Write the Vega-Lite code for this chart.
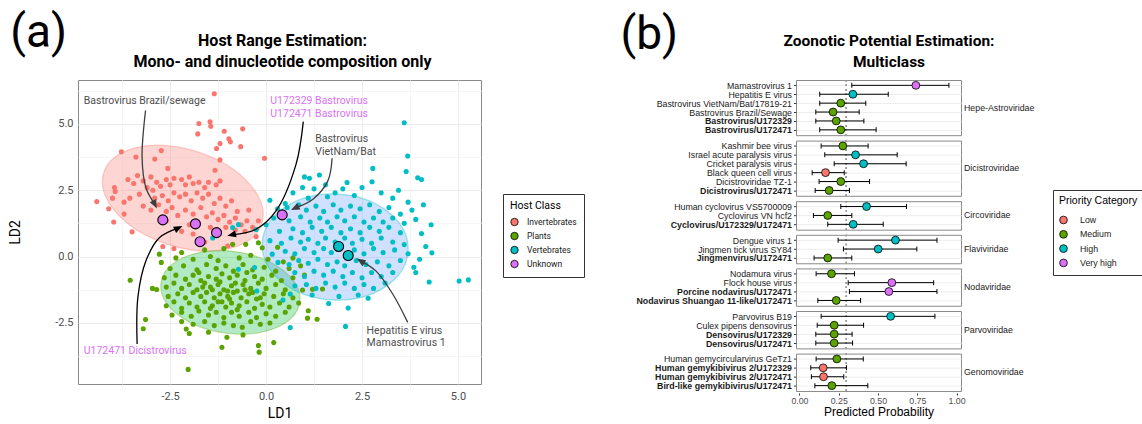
{
"$schema": "https://vega.github.io/schema/vega-lite/v6.json",
"padding": {"left": 8, "top": 10, "right": 0, "bottom": 0},
"config": {"view": {"stroke": "#8a8a8a", "strokeWidth": 1}, "font": "Roboto", "axis": {"domain": false}},
"spacing": 35,
"resolve": {"scale": {"color": "independent", "fill": "independent"}, "legend": {"color": "independent", "fill": "independent"}},
"datasets": {
"pts": [
{"host":"Invertebrates","x":-1.35,"y":6.13},{"host":"Invertebrates","x":-1.75,"y":5.01},{"host":"Invertebrates","x":-1.46,"y":5.08},{"host":"Invertebrates","x":-1.44,"y":4.91},{"host":"Invertebrates","x":-1.78,"y":4.62},{"host":"Invertebrates","x":-1.09,"y":4.72},{"host":"Invertebrates","x":-0.97,"y":4.44},{"host":"Invertebrates","x":-0.93,"y":4.32},{"host":"Invertebrates","x":-0.61,"y":4.81},{"host":"Invertebrates","x":-1.2,"y":4.26},{"host":"Invertebrates","x":-1.29,"y":4.07},{"host":"Invertebrates","x":-0.66,"y":4.14},{"host":"Invertebrates","x":-0.04,"y":3.7},{"host":"Invertebrates","x":-1.2,"y":3.64},{"host":"Invertebrates","x":-3.77,"y":3.95},{"host":"Invertebrates","x":-2.73,"y":3.99},{"host":"Invertebrates","x":-3.39,"y":3.75},{"host":"Invertebrates","x":-2.9,"y":3.67},{"host":"Invertebrates","x":-1.33,"y":3.25},{"host":"Invertebrates","x":-2.56,"y":3.32},
{"host":"Invertebrates","x":-4.41,"y":2.07},{"host":"Invertebrates","x":-4.1,"y":1.8},{"host":"Invertebrates","x":-3.97,"y":1.3},{"host":"Invertebrates","x":-3.49,"y":0.93},{"host":"Invertebrates","x":-3.95,"y":2.6},{"host":"Invertebrates","x":-3.93,"y":2.45},{"host":"Invertebrates","x":-3.6,"y":2.9},{"host":"Invertebrates","x":-3.45,"y":2.75},{"host":"Invertebrates","x":-3.35,"y":3.05},{"host":"Invertebrates","x":-3.2,"y":2.85},{"host":"Invertebrates","x":-3.1,"y":2.6},{"host":"Invertebrates","x":-3.3,"y":2.35},{"host":"Invertebrates","x":-3.55,"y":2.2},{"host":"Invertebrates","x":-3.7,"y":2.05},{"host":"Invertebrates","x":-3.0,"y":3.0},{"host":"Invertebrates","x":-2.85,"y":2.8},{"host":"Invertebrates","x":-2.95,"y":2.5},{"host":"Invertebrates","x":-2.75,"y":2.65},{"host":"Invertebrates","x":-2.6,"y":2.9},{"host":"Invertebrates","x":-2.5,"y":2.7},{"host":"Invertebrates","x":-2.4,"y":2.95},{"host":"Invertebrates","x":-2.2,"y":2.9},{"host":"Invertebrates","x":-2.1,"y":2.7},{"host":"Invertebrates","x":-2.0,"y":3.0},{"host":"Invertebrates","x":-1.9,"y":2.75},{"host":"Invertebrates","x":-1.75,"y":2.8},{"host":"Invertebrates","x":-1.6,"y":2.6},{"host":"Invertebrates","x":-1.5,"y":2.8},{"host":"Invertebrates","x":-1.3,"y":2.7},{"host":"Invertebrates","x":-1.2,"y":2.85},{"host":"Invertebrates","x":-2.9,"y":2.2},{"host":"Invertebrates","x":-2.7,"y":2.3},{"host":"Invertebrates","x":-2.55,"y":2.1},{"host":"Invertebrates","x":-2.4,"y":2.4},{"host":"Invertebrates","x":-2.25,"y":2.25},{"host":"Invertebrates","x":-2.1,"y":2.35},{"host":"Invertebrates","x":-1.95,"y":2.1},{"host":"Invertebrates","x":-1.8,"y":2.4},{"host":"Invertebrates","x":-1.65,"y":2.2},{"host":"Invertebrates","x":-1.5,"y":2.35},{"host":"Invertebrates","x":-1.35,"y":2.0},{"host":"Invertebrates","x":-1.2,"y":2.2},{"host":"Invertebrates","x":-1.05,"y":1.9},{"host":"Invertebrates","x":-0.9,"y":2.1},{"host":"Invertebrates","x":-0.75,"y":1.7},{"host":"Invertebrates","x":-3.2,"y":1.9},{"host":"Invertebrates","x":-3.0,"y":1.75},{"host":"Invertebrates","x":-2.8,"y":1.95},{"host":"Invertebrates","x":-2.6,"y":1.7},{"host":"Invertebrates","x":-2.45,"y":1.85},{"host":"Invertebrates","x":-2.3,"y":1.55},{"host":"Invertebrates","x":-2.1,"y":1.75},{"host":"Invertebrates","x":-1.9,"y":1.6},{"host":"Invertebrates","x":-1.7,"y":1.85},{"host":"Invertebrates","x":-1.55,"y":1.5},{"host":"Invertebrates","x":-1.4,"y":1.65},{"host":"Invertebrates","x":-1.25,"y":1.4},{"host":"Invertebrates","x":-1.1,"y":1.55},{"host":"Invertebrates","x":-0.95,"y":1.3},{"host":"Invertebrates","x":-0.8,"y":1.45},{"host":"Invertebrates","x":-0.65,"y":1.2},{"host":"Invertebrates","x":-0.5,"y":1.35},{"host":"Invertebrates","x":-0.35,"y":1.1},{"host":"Invertebrates","x":-0.55,"y":0.95},{"host":"Invertebrates","x":-0.8,"y":1.0},{"host":"Invertebrates","x":-1.05,"y":1.1},{"host":"Invertebrates","x":-1.45,"y":1.1},{"host":"Invertebrates","x":-2.0,"y":1.2},{"host":"Invertebrates","x":-2.2,"y":0.95},{"host":"Invertebrates","x":-2.69,"y":0.38},{"host":"Invertebrates","x":-0.26,"y":0.75},{"host":"Invertebrates","x":-1.6,"y":0.55},{"host":"Invertebrates","x":-1.0,"y":0.4},{"host":"Invertebrates","x":-2.4,"y":0.3},{"host":"Invertebrates","x":-0.2,"y":1.35},{"host":"Invertebrates","x":-0.45,"y":1.75},{"host":"Invertebrates","x":-3.7,"y":1.6},{"host":"Invertebrates","x":-4.0,"y":2.2},{"host":"Invertebrates","x":-2.6,"y":1.35},{"host":"Invertebrates","x":-1.9,"y":0.85},
{"host":"Plants","x":-2.2,"y":0.15},{"host":"Plants","x":-1.6,"y":0.25},{"host":"Plants","x":-1.1,"y":0.3},{"host":"Plants","x":-0.87,"y":0.46},{"host":"Plants","x":-0.53,"y":0.46},{"host":"Plants","x":-0.2,"y":0.52},{"host":"Plants","x":-0.1,"y":0.33},{"host":"Plants","x":0.3,"y":0.35},{"host":"Plants","x":-2.78,"y":0.09},{"host":"Plants","x":-2.73,"y":-0.22},{"host":"Plants","x":-2.35,"y":-0.05},{"host":"Plants","x":-1.9,"y":-0.1},{"host":"Plants","x":-1.45,"y":0.0},{"host":"Plants","x":-1.25,"y":-0.15},{"host":"Plants","x":-0.7,"y":-0.05},{"host":"Plants","x":-0.4,"y":0.05},{"host":"Plants","x":0.05,"y":-0.1},{"host":"Plants","x":0.45,"y":-0.2},{"host":"Plants","x":0.7,"y":-0.05},
{"host":"Plants","x":-2.5,"y":-0.45},{"host":"Plants","x":-2.15,"y":-0.35},{"host":"Plants","x":-1.8,"y":-0.5},{"host":"Plants","x":-1.55,"y":-0.3},{"host":"Plants","x":-1.3,"y":-0.45},{"host":"Plants","x":-1.05,"y":-0.35},{"host":"Plants","x":-0.85,"y":-0.55},{"host":"Plants","x":-0.6,"y":-0.3},{"host":"Plants","x":-0.35,"y":-0.5},{"host":"Plants","x":-0.05,"y":-0.4},{"host":"Plants","x":0.25,"y":-0.55},{"host":"Plants","x":0.6,"y":-0.45},{"host":"Plants","x":0.9,"y":-0.35},
{"host":"Plants","x":-2.65,"y":-0.8},{"host":"Plants","x":-2.35,"y":-0.7},{"host":"Plants","x":-2.1,"y":-0.85},{"host":"Plants","x":-1.9,"y":-0.7},{"host":"Plants","x":-1.7,"y":-0.9},{"host":"Plants","x":-1.5,"y":-0.75},{"host":"Plants","x":-1.3,"y":-0.85},{"host":"Plants","x":-1.15,"y":-0.65},{"host":"Plants","x":-0.95,"y":-0.8},{"host":"Plants","x":-0.75,"y":-0.7},{"host":"Plants","x":-0.55,"y":-0.9},{"host":"Plants","x":-0.3,"y":-0.75},{"host":"Plants","x":-0.1,"y":-0.85},{"host":"Plants","x":0.15,"y":-0.7},{"host":"Plants","x":0.4,"y":-0.9},{"host":"Plants","x":0.7,"y":-0.8},{"host":"Plants","x":1.0,"y":-0.7},
{"host":"Plants","x":-2.6,"y":-1.15},{"host":"Plants","x":-2.4,"y":-1.0},{"host":"Plants","x":-2.2,"y":-1.2},{"host":"Plants","x":-2.0,"y":-1.05},{"host":"Plants","x":-1.8,"y":-1.25},{"host":"Plants","x":-1.6,"y":-1.0},{"host":"Plants","x":-1.45,"y":-1.15},{"host":"Plants","x":-1.25,"y":-1.05},{"host":"Plants","x":-1.1,"y":-1.25},{"host":"Plants","x":-0.9,"y":-1.1},{"host":"Plants","x":-0.75,"y":-1.3},{"host":"Plants","x":-0.6,"y":-1.05},{"host":"Plants","x":-0.4,"y":-1.2},{"host":"Plants","x":-0.2,"y":-1.0},{"host":"Plants","x":0.0,"y":-1.2},{"host":"Plants","x":0.25,"y":-1.05},{"host":"Plants","x":0.5,"y":-1.25},{"host":"Plants","x":0.95,"y":-1.26},{"host":"Plants","x":1.21,"y":-1.23},{"host":"Plants","x":1.47,"y":-1.22},
{"host":"Plants","x":-2.96,"y":-1.2},{"host":"Plants","x":-2.85,"y":-1.24},{"host":"Plants","x":-2.55,"y":-1.5},{"host":"Plants","x":-2.3,"y":-1.4},{"host":"Plants","x":-2.1,"y":-1.55},{"host":"Plants","x":-1.9,"y":-1.35},{"host":"Plants","x":-1.7,"y":-1.5},{"host":"Plants","x":-1.55,"y":-1.35},{"host":"Plants","x":-1.35,"y":-1.55},{"host":"Plants","x":-1.2,"y":-1.4},{"host":"Plants","x":-1.0,"y":-1.5},{"host":"Plants","x":-0.85,"y":-1.35},{"host":"Plants","x":-0.65,"y":-1.55},{"host":"Plants","x":-0.45,"y":-1.4},{"host":"Plants","x":-0.25,"y":-1.6},{"host":"Plants","x":-0.05,"y":-1.4},{"host":"Plants","x":0.2,"y":-1.5},{"host":"Plants","x":0.45,"y":-1.4},{"host":"Plants","x":0.7,"y":-1.55},
{"host":"Plants","x":-2.6,"y":-1.85},{"host":"Plants","x":-2.4,"y":-1.7},{"host":"Plants","x":-2.2,"y":-1.95},{"host":"Plants","x":-2.0,"y":-1.75},{"host":"Plants","x":-1.8,"y":-1.9},{"host":"Plants","x":-1.6,"y":-1.7},{"host":"Plants","x":-1.4,"y":-1.85},{"host":"Plants","x":-1.25,"y":-1.7},{"host":"Plants","x":-1.05,"y":-1.9},{"host":"Plants","x":-0.9,"y":-1.75},{"host":"Plants","x":-0.7,"y":-1.85},{"host":"Plants","x":-0.5,"y":-1.7},{"host":"Plants","x":-0.3,"y":-1.95},{"host":"Plants","x":-0.1,"y":-1.8},{"host":"Plants","x":0.1,"y":-1.9},{"host":"Plants","x":0.35,"y":-1.75},{"host":"Plants","x":0.6,"y":-1.9},{"host":"Plants","x":0.85,"y":-1.75},
{"host":"Plants","x":-2.45,"y":-2.2},{"host":"Plants","x":-2.2,"y":-2.1},{"host":"Plants","x":-1.95,"y":-2.25},{"host":"Plants","x":-1.75,"y":-2.05},{"host":"Plants","x":-1.5,"y":-2.2},{"host":"Plants","x":-1.3,"y":-2.1},{"host":"Plants","x":-1.1,"y":-2.3},{"host":"Plants","x":-0.9,"y":-2.1},{"host":"Plants","x":-0.7,"y":-2.25},{"host":"Plants","x":-0.45,"y":-2.1},{"host":"Plants","x":-0.25,"y":-2.3},{"host":"Plants","x":0.0,"y":-2.15},{"host":"Plants","x":0.25,"y":-2.25},{"host":"Plants","x":0.5,"y":-2.1},{"host":"Plants","x":1.1,"y":-2.04},{"host":"Plants","x":1.08,"y":-2.32},{"host":"Plants","x":1.33,"y":-2.36},
{"host":"Plants","x":-2.2,"y":-2.45},{"host":"Plants","x":-1.9,"y":-2.55},{"host":"Plants","x":-1.6,"y":-2.45},{"host":"Plants","x":-1.35,"y":-2.6},{"host":"Plants","x":-1.1,"y":-2.5},{"host":"Plants","x":-0.85,"y":-2.6},{"host":"Plants","x":-0.62,"y":-2.66},{"host":"Plants","x":-0.4,"y":-2.45},{"host":"Plants","x":-0.15,"y":-2.55},{"host":"Plants","x":0.1,"y":-2.5},{"host":"Plants","x":-3.14,"y":-2.37},
{"host":"Plants","x":-3.2,"y":-2.72},{"host":"Plants","x":-2.08,"y":-2.73},{"host":"Plants","x":-2.0,"y":-2.9},{"host":"Plants","x":-1.5,"y":-2.85},{"host":"Plants","x":-1.02,"y":-3.04},{"host":"Plants","x":-0.6,"y":-2.95},{"host":"Plants","x":-0.2,"y":-3.35},{"host":"Plants","x":-0.18,"y":-3.6},{"host":"Plants","x":0.2,"y":-3.24},{"host":"Plants","x":-1.15,"y":-3.42},{"host":"Plants","x":-2.03,"y":-4.25},{"host":"Plants","x":-3.54,"y":-0.89},
{"host":"Plants","x":-1.0,"y":-1.3},{"host":"Plants","x":-0.8,"y":-1.0},{"host":"Plants","x":-1.2,"y":-0.95},{"host":"Plants","x":-0.55,"y":-1.25},{"host":"Plants","x":-1.4,"y":-1.25},{"host":"Plants","x":-1.65,"y":-1.15},{"host":"Plants","x":-0.95,"y":-1.6},{"host":"Plants","x":-1.15,"y":-1.7},{"host":"Plants","x":-0.35,"y":-1.35},{"host":"Plants","x":-1.75,"y":-0.6},{"host":"Plants","x":-0.5,"y":-0.6},{"host":"Plants","x":-0.15,"y":-1.55},{"host":"Plants","x":-1.45,"y":-1.95},{"host":"Plants","x":-0.75,"y":-2.0},
{"host":"Vertebrates","x":3.6,"y":5.04},{"host":"Vertebrates","x":3.69,"y":3.79},{"host":"Vertebrates","x":2.78,"y":3.32},{"host":"Vertebrates","x":3.65,"y":3.2},{"host":"Vertebrates","x":3.95,"y":2.97},{"host":"Vertebrates","x":4.05,"y":2.9},{"host":"Vertebrates","x":1.39,"y":3.07},{"host":"Vertebrates","x":1.0,"y":3.0},{"host":"Vertebrates","x":1.13,"y":2.95},{"host":"Vertebrates","x":2.76,"y":2.82},{"host":"Vertebrates","x":2.11,"y":2.79},{"host":"Vertebrates","x":0.1,"y":2.12},{"host":"Vertebrates","x":0.7,"y":2.4},{"host":"Vertebrates","x":0.95,"y":2.6},{"host":"Vertebrates","x":1.25,"y":2.55},{"host":"Vertebrates","x":1.55,"y":2.7},{"host":"Vertebrates","x":1.8,"y":2.4},{"host":"Vertebrates","x":2.0,"y":2.55},{"host":"Vertebrates","x":2.3,"y":2.3},{"host":"Vertebrates","x":2.5,"y":2.6},{"host":"Vertebrates","x":3.0,"y":2.4},{"host":"Vertebrates","x":3.3,"y":2.2},{"host":"Vertebrates","x":3.45,"y":2.5},{"host":"Vertebrates","x":1.6,"y":2.25},{"host":"Vertebrates","x":0.5,"y":2.0},{"host":"Vertebrates","x":1.1,"y":2.2},
{"host":"Vertebrates","x":0.3,"y":1.8},{"host":"Vertebrates","x":0.55,"y":1.85},{"host":"Vertebrates","x":0.85,"y":1.95},{"host":"Vertebrates","x":1.05,"y":1.75},{"host":"Vertebrates","x":1.3,"y":1.9},{"host":"Vertebrates","x":1.5,"y":1.7},{"host":"Vertebrates","x":1.75,"y":1.95},{"host":"Vertebrates","x":1.95,"y":1.75},{"host":"Vertebrates","x":2.2,"y":1.9},{"host":"Vertebrates","x":2.45,"y":1.8},{"host":"Vertebrates","x":2.7,"y":1.95},{"host":"Vertebrates","x":2.95,"y":1.7},{"host":"Vertebrates","x":3.2,"y":1.85},{"host":"Vertebrates","x":3.5,"y":1.6},{"host":"Vertebrates","x":3.8,"y":1.75},{"host":"Vertebrates","x":3.7,"y":2.05},
{"host":"Vertebrates","x":0.0,"y":1.2},{"host":"Vertebrates","x":0.2,"y":1.45},{"host":"Vertebrates","x":0.6,"y":1.35},{"host":"Vertebrates","x":0.9,"y":1.5},{"host":"Vertebrates","x":1.15,"y":1.3},{"host":"Vertebrates","x":1.4,"y":1.45},{"host":"Vertebrates","x":1.6,"y":1.3},{"host":"Vertebrates","x":1.85,"y":1.5},{"host":"Vertebrates","x":2.05,"y":1.35},{"host":"Vertebrates","x":2.3,"y":1.5},{"host":"Vertebrates","x":2.55,"y":1.3},{"host":"Vertebrates","x":2.8,"y":1.45},{"host":"Vertebrates","x":3.05,"y":1.3},{"host":"Vertebrates","x":3.3,"y":1.45},{"host":"Vertebrates","x":3.6,"y":1.25},{"host":"Vertebrates","x":3.9,"y":1.4},
{"host":"Vertebrates","x":-0.87,"y":1.09},{"host":"Vertebrates","x":-0.72,"y":1.21},{"host":"Vertebrates","x":-0.26,"y":1.02},{"host":"Vertebrates","x":0.35,"y":0.95},{"host":"Vertebrates","x":0.7,"y":1.05},{"host":"Vertebrates","x":0.95,"y":0.9},{"host":"Vertebrates","x":1.2,"y":1.1},{"host":"Vertebrates","x":1.45,"y":0.95},{"host":"Vertebrates","x":1.7,"y":1.1},{"host":"Vertebrates","x":1.95,"y":0.9},{"host":"Vertebrates","x":2.2,"y":1.05},{"host":"Vertebrates","x":2.45,"y":0.9},{"host":"Vertebrates","x":2.7,"y":1.1},{"host":"Vertebrates","x":2.95,"y":0.95},{"host":"Vertebrates","x":3.2,"y":1.1},{"host":"Vertebrates","x":3.5,"y":0.9},{"host":"Vertebrates","x":4.05,"y":0.87},
{"host":"Vertebrates","x":-1.39,"y":0.7},{"host":"Vertebrates","x":0.1,"y":0.6},{"host":"Vertebrates","x":0.4,"y":0.5},{"host":"Vertebrates","x":0.65,"y":0.7},{"host":"Vertebrates","x":0.9,"y":0.55},{"host":"Vertebrates","x":1.1,"y":0.65},{"host":"Vertebrates","x":1.35,"y":0.5},{"host":"Vertebrates","x":1.55,"y":0.7},{"host":"Vertebrates","x":1.8,"y":0.55},{"host":"Vertebrates","x":2.05,"y":0.7},{"host":"Vertebrates","x":2.25,"y":0.5},{"host":"Vertebrates","x":2.5,"y":0.65},{"host":"Vertebrates","x":2.75,"y":0.5},{"host":"Vertebrates","x":3.0,"y":0.7},{"host":"Vertebrates","x":3.3,"y":0.55},{"host":"Vertebrates","x":3.6,"y":0.45},{"host":"Vertebrates","x":4.16,"y":0.38},
{"host":"Vertebrates","x":0.16,"y":0.09},{"host":"Vertebrates","x":0.5,"y":0.2},{"host":"Vertebrates","x":0.75,"y":0.1},{"host":"Vertebrates","x":1.0,"y":0.3},{"host":"Vertebrates","x":1.25,"y":0.15},{"host":"Vertebrates","x":1.5,"y":0.3},{"host":"Vertebrates","x":1.7,"y":0.15},{"host":"Vertebrates","x":2.3,"y":0.25},{"host":"Vertebrates","x":2.55,"y":0.1},{"host":"Vertebrates","x":2.8,"y":0.3},{"host":"Vertebrates","x":3.05,"y":0.15},{"host":"Vertebrates","x":3.35,"y":0.25},{"host":"Vertebrates","x":3.7,"y":0.1},{"host":"Vertebrates","x":4.32,"y":0.14},
{"host":"Vertebrates","x":0.31,"y":-0.22},{"host":"Vertebrates","x":0.6,"y":-0.3},{"host":"Vertebrates","x":0.85,"y":-0.15},{"host":"Vertebrates","x":1.1,"y":-0.25},{"host":"Vertebrates","x":1.35,"y":-0.1},{"host":"Vertebrates","x":1.6,"y":-0.3},{"host":"Vertebrates","x":1.85,"y":-0.2},{"host":"Vertebrates","x":2.05,"y":-0.35},{"host":"Vertebrates","x":2.35,"y":-0.15},{"host":"Vertebrates","x":2.6,"y":-0.3},{"host":"Vertebrates","x":2.9,"y":-0.2},{"host":"Vertebrates","x":3.2,"y":-0.35},{"host":"Vertebrates","x":3.5,"y":-0.15},{"host":"Vertebrates","x":3.85,"y":-0.4},
{"host":"Vertebrates","x":-0.72,"y":-0.48},{"host":"Vertebrates","x":-0.3,"y":-0.41},{"host":"Vertebrates","x":0.75,"y":-0.6},{"host":"Vertebrates","x":1.0,"y":-0.75},{"host":"Vertebrates","x":1.25,"y":-0.55},{"host":"Vertebrates","x":1.5,"y":-0.7},{"host":"Vertebrates","x":1.75,"y":-0.55},{"host":"Vertebrates","x":2.0,"y":-0.75},{"host":"Vertebrates","x":2.25,"y":-0.6},{"host":"Vertebrates","x":2.5,"y":-0.8},{"host":"Vertebrates","x":2.75,"y":-0.6},{"host":"Vertebrates","x":3.0,"y":-0.75},{"host":"Vertebrates","x":3.3,"y":-0.6},{"host":"Vertebrates","x":4.25,"y":-0.96},{"host":"Vertebrates","x":5.03,"y":-0.92},{"host":"Vertebrates","x":5.27,"y":-0.88},
{"host":"Vertebrates","x":-0.24,"y":-1.3},{"host":"Vertebrates","x":0.75,"y":-1.1},{"host":"Vertebrates","x":1.05,"y":-1.05},{"host":"Vertebrates","x":1.3,"y":-1.2},{"host":"Vertebrates","x":1.55,"y":-1.0},{"host":"Vertebrates","x":1.8,"y":-1.15},{"host":"Vertebrates","x":2.05,"y":-1.0},{"host":"Vertebrates","x":2.3,"y":-1.2},{"host":"Vertebrates","x":2.55,"y":-1.05},{"host":"Vertebrates","x":2.8,"y":-1.2},{"host":"Vertebrates","x":3.1,"y":-1.0},{"host":"Vertebrates","x":0.63,"y":-1.41},{"host":"Vertebrates","x":0.44,"y":-1.64},
{"host":"Vertebrates","x":1.63,"y":-1.77},{"host":"Vertebrates","x":2.66,"y":-1.57},{"host":"Vertebrates","x":2.14,"y":-1.94},{"host":"Vertebrates","x":2.07,"y":-2.63},{"host":"Vertebrates","x":0.63,"y":-2.67},{"host":"Vertebrates","x":1.2,"y":-1.45},{"host":"Vertebrates","x":1.9,"y":-1.5},{"host":"Vertebrates","x":2.4,"y":-1.45},{"host":"Vertebrates","x":4.1,"y":1.95},{"host":"Vertebrates","x":4.3,"y":1.2},{"host":"Vertebrates","x":4.0,"y":-0.1},{"host":"Vertebrates","x":3.9,"y":-0.6}
],
"hl": [
{"host":"Unknown","x":-2.69,"y":1.38},{"host":"Unknown","x":-1.84,"y":1.23},{"host":"Unknown","x":-1.72,"y":0.56},{"host":"Unknown","x":-1.29,"y":0.9},{"host":"Unknown","x":0.42,"y":1.57},
{"host":"Vertebrates","x":1.89,"y":0.38},{"host":"Vertebrates","x":2.14,"y":0.04}
],
"ell": [
{"host":"Invertebrates","x":-2.17,"y":2.2},{"host":"Plants","x":-0.93,"y":-1.35},{"host":"Vertebrates","x":1.8,"y":0.36}
],
"arr": [
{"id":1,"o":0,"x":-3.14,"y":5.5,"kind":"ref"},{"id":1,"o":1,"x":-3.23,"y":3.72,"kind":"ref"},{"id":1,"o":2,"x":-3.13,"y":2.59,"kind":"ref"},{"id":1,"o":3,"x":-2.9,"y":1.97,"kind":"ref"},
{"id":2,"o":0,"x":0.97,"y":5.08,"kind":"query"},{"id":2,"o":1,"x":0.78,"y":3.47,"kind":"query"},{"id":2,"o":2,"x":0.26,"y":1.72,"kind":"query"},{"id":2,"o":3,"x":-0.26,"y":1.03,"kind":"query"},{"id":2,"o":4,"x":-0.89,"y":0.82,"kind":"query"},
{"id":3,"o":0,"x":1.72,"y":3.7,"kind":"ref"},{"id":3,"o":1,"x":1.61,"y":2.85,"kind":"ref"},{"id":3,"o":2,"x":1.22,"y":2.16,"kind":"ref"},{"id":3,"o":3,"x":0.76,"y":1.83,"kind":"ref"},
{"id":4,"o":0,"x":-3.36,"y":-3.29,"kind":"query"},{"id":4,"o":1,"x":-3.34,"y":-1.54,"kind":"query"},{"id":4,"o":2,"x":-3.13,"y":-0.16,"kind":"query"},{"id":4,"o":3,"x":-2.78,"y":0.71,"kind":"query"},{"id":4,"o":4,"x":-2.29,"y":1.07,"kind":"query"},
{"id":5,"o":0,"x":3.69,"y":-2.48,"kind":"ref"},{"id":5,"o":1,"x":3.3,"y":-1.41,"kind":"ref"},{"id":5,"o":2,"x":2.86,"y":-0.54,"kind":"ref"},{"id":5,"o":3,"x":2.47,"y":-0.17,"kind":"ref"}
],
"head": [
{"x":-2.9,"y":1.97,"dir":153,"kind":"ref"},{"x":-0.89,"y":0.82,"dir":257,"kind":"query"},{"x":0.76,"y":1.83,"dir":244,"kind":"ref"},{"x":-2.29,"y":1.07,"dir":64,"kind":"query"},{"x":2.47,"y":-0.17,"dir":302,"kind":"ref"}
],
"lab": [
{"x":-4.75,"y":6.04,"label":"Bastrovirus Brazil/sewage","kind":"ref"},
{"x":0.11,"y":6.04,"label":"U172329 Bastrovirus\nU172471 Bastrovirus","kind":"query"},
{"x":1.28,"y":4.61,"label":"Bastrovirus\nVietNam/Bat","kind":"ref"},
{"x":-4.75,"y":-3.36,"label":"U172471 Dicistrovirus","kind":"query"},
{"x":2.62,"y":-2.61,"label":"Hepatitis E virus\nMamastrovirus 1","kind":"ref"}
],
"zoo": [
{"family":"Hepe-Astroviridae","name":"Mamastrovirus 1","p":0.741,"lo":0.333,"hi":0.951,"priority":"Very high"},
{"family":"Hepe-Astroviridae","name":"Hepatitis E virus","p":0.34,"lo":0.129,"hi":0.565,"priority":"High"},
{"family":"Hepe-Astroviridae","name":"Bastrovirus VietNam/Bat/17819-21","p":0.263,"lo":0.129,"hi":0.422,"priority":"Medium"},
{"family":"Hepe-Astroviridae","name":"Bastrovirus Brazil/Sewage","p":0.214,"lo":0.104,"hi":0.38,"priority":"Medium"},
{"family":"Hepe-Astroviridae","name":"Bastrovirus/U172329","p":0.234,"lo":0.104,"hi":0.41,"priority":"Medium"},
{"family":"Hepe-Astroviridae","name":"Bastrovirus/U172471","p":0.263,"lo":0.129,"hi":0.488,"priority":"Medium"},
{"family":"Dicistroviridae","name":"Kashmir bee virus","p":0.276,"lo":0.138,"hi":0.437,"priority":"Medium"},
{"family":"Dicistroviridae","name":"Israel acute paralysis virus","p":0.357,"lo":0.161,"hi":0.622,"priority":"High"},
{"family":"Dicistroviridae","name":"Cricket paralysis virus","p":0.408,"lo":0.221,"hi":0.679,"priority":"High"},
{"family":"Dicistroviridae","name":"Black queen cell virus","p":0.166,"lo":0.081,"hi":0.285,"priority":"Low"},
{"family":"Dicistroviridae","name":"Dicistroviridae TZ-1","p":0.263,"lo":0.125,"hi":0.446,"priority":"Medium"},
{"family":"Dicistroviridae","name":"Dicistrovirus/U172471","p":0.189,"lo":0.1,"hi":0.318,"priority":"Medium"},
{"family":"Circoviridae","name":"Human cyclovirus VS5700009","p":0.427,"lo":0.263,"hi":0.681,"priority":"High"},
{"family":"Circoviridae","name":"Cyclovirus VN hcf2","p":0.18,"lo":0.089,"hi":0.333,"priority":"Medium"},
{"family":"Circoviridae","name":"Cyclovirus/U172329/U172471","p":0.342,"lo":0.18,"hi":0.533,"priority":"High"},
{"family":"Flaviviridae","name":"Dengue virus 1","p":0.611,"lo":0.246,"hi":0.875,"priority":"High"},
{"family":"Flaviviridae","name":"Jingmen tick virus SY84","p":0.501,"lo":0.28,"hi":0.747,"priority":"High"},
{"family":"Flaviviridae","name":"Jingmenvirus/U172471","p":0.18,"lo":0.093,"hi":0.333,"priority":"Medium"},
{"family":"Nodaviridae","name":"Nodamura virus","p":0.204,"lo":0.106,"hi":0.35,"priority":"Medium"},
{"family":"Nodaviridae","name":"Flock house virus","p":0.588,"lo":0.31,"hi":0.854,"priority":"Very high"},
{"family":"Nodaviridae","name":"Porcine nodavirus/U172471","p":0.569,"lo":0.318,"hi":0.875,"priority":"Very high"},
{"family":"Nodaviridae","name":"Nodavirus Shuangao 11-like/U172471","p":0.234,"lo":0.117,"hi":0.389,"priority":"Medium"},
{"family":"Parvoviridae","name":"Parvovirus B19","p":0.58,"lo":0.138,"hi":0.862,"priority":"High"},
{"family":"Parvoviridae","name":"Culex pipens densovirus","p":0.221,"lo":0.113,"hi":0.408,"priority":"Medium"},
{"family":"Parvoviridae","name":"Densovirus/U172329","p":0.221,"lo":0.104,"hi":0.335,"priority":"Medium"},
{"family":"Parvoviridae","name":"Densovirus/U172471","p":0.221,"lo":0.104,"hi":0.338,"priority":"Medium"},
{"family":"Genomoviridae","name":"Human gemycircularvirus GeTz1","p":0.238,"lo":0.106,"hi":0.406,"priority":"Medium"},
{"family":"Genomoviridae","name":"Human gemykibivirus 2/U172329","p":0.151,"lo":0.072,"hi":0.299,"priority":"Low"},
{"family":"Genomoviridae","name":"Human gemykibivirus 2/U172471","p":0.153,"lo":0.076,"hi":0.282,"priority":"Low"},
{"family":"Genomoviridae","name":"Bird-like gemykibivirus/U172471","p":0.206,"lo":0.098,"hi":0.435,"priority":"Medium"}
]
},
"hconcat": [
{
"title": {"text": "(a)", "anchor": "start", "font": "Roboto", "fontSize": 46, "fontWeight": "normal", "color": "black", "offset": -25, "dx": 2},
"resolve": {"scale": {"color": "independent"}, "legend": {"color": "independent"}},
"vconcat": [
{
"width": 403, "height": 304,
"title": {"text": ["Host Range Estimation:", "Mono- and dinucleotide composition only"], "font": "Roboto", "fontSize": 16, "fontWeight": "bold", "color": "black", "lineHeight": 21, "anchor": "middle", "frame": "group", "offset": 10.5, "dx": 3},
"encoding": {
"x": {"field": "x", "type": "quantitative", "scale": {"domain": [-4.9, 5.6], "nice": false, "zero": false},
"axis": {"title": "LD1", "values": [-3.75, -2.5, -1.25, 0, 1.25, 2.5, 3.75, 5], "labelExpr": "datum.value % 2.5 == 0 ? (datum.value < 0 ? '-' + format(-datum.value, '.1f') : format(datum.value, '.1f')) : ''", "ticks": false, "tickSize": 0, "labelPadding": 6, "labelFont": "Roboto", "labelFontSize": 11, "labelColor": "#4d4d4d", "titleFont": "Roboto", "titleFontSize": 14, "titleFontWeight": "normal", "titleColor": "black", "titlePadding": 5, "domain": false, "gridColor": {"condition": {"test": "datum.value % 2.5 == 0", "value": "#ececec"}, "value": "#f6f6f6"}}},
"y": {"field": "y", "type": "quantitative", "scale": {"domain": [-4.8, 6.65], "nice": false, "zero": false},
"axis": {"title": "LD2", "values": [-3.75, -2.5, -1.25, 0, 1.25, 2.5, 3.75, 5, 6.25], "labelExpr": "datum.value % 2.5 == 0 ? (datum.value < 0 ? '-' + format(-datum.value, '.1f') : format(datum.value, '.1f')) : ''", "ticks": false, "tickSize": 0, "labelPadding": 5, "labelFont": "Roboto", "labelFontSize": 11, "labelColor": "#4d4d4d", "titleFont": "Roboto", "titleFontSize": 14, "titleFontWeight": "normal", "titleColor": "black", "titlePadding": 32, "domain": false, "gridColor": {"condition": {"test": "datum.value % 2.5 == 0", "value": "#ececec"}, "value": "#f6f6f6"}}}
},
"layer": [
{"data": {"name": "ell"}, "transform": [{"filter": "datum.host === 'Invertebrates'"}],
"mark": {"type": "point", "shape": "M1,0C1,0.3236,0.5523,0.586,0,0.586C-0.5523,0.586,-1,0.3236,-1,0C-1,-0.3236,-0.5523,-0.586,0,-0.586C0.5523,-0.586,1,-0.3236,1,0Z", "size": 27556, "angle": 18, "filled": true, "fill": "#F8766D", "fillOpacity": 0.3, "stroke": "#F8766D", "strokeOpacity": 0.35, "strokeWidth": 1.2, "opacity": 1}},
{"data": {"name": "ell"}, "transform": [{"filter": "datum.host === 'Plants'"}],
"mark": {"type": "point", "shape": "M1,0C1,0.3236,0.5523,0.586,0,0.586C-0.5523,0.586,-1,0.3236,-1,0C-1,-0.3236,-0.5523,-0.586,0,-0.586C0.5523,-0.586,1,-0.3236,1,0Z", "size": 19600, "angle": 8, "filled": true, "fill": "#00BA38", "fillOpacity": 0.3, "stroke": "#5BA300", "strokeOpacity": 0.35, "strokeWidth": 1.2, "opacity": 1}},
{"data": {"name": "ell"}, "transform": [{"filter": "datum.host === 'Vertebrates'"}],
"mark": {"type": "point", "shape": "M1,0C1,0.401,0.5523,0.726,0,0.726C-0.5523,0.726,-1,0.401,-1,0C-1,-0.401,-0.5523,-0.726,0,-0.726C0.5523,-0.726,1,-0.401,1,0Z", "size": 21316, "angle": 3, "filled": true, "fill": "#619CFF", "fillOpacity": 0.3, "stroke": "#00BFC4", "strokeOpacity": 0.4, "strokeWidth": 1.2, "opacity": 1}},
{"data": {"name": "pts"},
"mark": {"type": "circle", "size": 26, "opacity": 1},
"encoding": {"color": {"field": "host", "type": "nominal",
"scale": {"domain": ["Invertebrates", "Plants", "Vertebrates", "Unknown"], "range": ["#F8766D", "#5BA300", "#00BFC4", "#DA72F5"]},
"legend": {"title": "Host Class", "orient": "none", "legendX": 425, "legendY": 114, "strokeColor": "#333", "padding": 7, "titleFont": "Roboto", "titleFontSize": 10.5, "titleFontWeight": "normal", "titleColor": "black", "titlePadding": 6, "labelFont": "Roboto", "labelFontSize": 8.5, "labelColor": "#1a1a1a", "symbolType": "circle", "symbolSize": 55, "symbolStrokeColor": "black", "symbolStrokeWidth": 0.8, "symbolOpacity": 1, "labelOffset": 8, "rowPadding": 3}}}},
{"data": {"name": "arr"},
"mark": {"type": "line", "interpolate": "catmull-rom", "strokeWidth": 1.3},
"encoding": {"order": {"field": "o", "type": "quantitative"}, "detail": {"field": "id", "type": "nominal"},
"color": {"condition": {"test": "datum.kind === 'query'", "value": "#000000"}, "value": "#3d3d3d"}}},
{"data": {"name": "head"},
"mark": {"type": "point", "shape": "M0,-1L0.75,0.85L-0.75,0.85Z", "size": 90, "filled": true, "opacity": 1},
"encoding": {"angle": {"field": "dir", "type": "quantitative", "scale": {"domain": [0, 360], "range": [0, 360]}},
"color": {"condition": {"test": "datum.kind === 'query'", "value": "#000000"}, "value": "#3d3d3d"}}},
{"data": {"name": "lab"},
"mark": {"type": "text", "align": "left", "baseline": "top", "lineBreak": "\n", "font": "Roboto", "fontSize": 10.5, "lineHeight": 12.5},
"encoding": {"text": {"field": "label"},
"color": {"condition": {"test": "datum.kind === 'query'", "value": "#DA72F5"}, "value": "#4d4d4d"}}},
{"data": {"name": "hl"},
"mark": {"type": "circle", "size": 100, "stroke": "black", "strokeWidth": 1.1, "opacity": 1},
"encoding": {"color": {"field": "host", "type": "nominal"}}}
]
}
]
},
{
"title": {"text": "(b)", "anchor": "start", "font": "Roboto", "fontSize": 46, "fontWeight": "normal", "color": "black", "offset": -25, "dx": -15},
"resolve": {"scale": {"fill": "independent"}, "legend": {"fill": "independent"}},
"vconcat": [
{
"data": {"name": "zoo"},
"title": {"text": ["Zoonotic Potential Estimation:", "Multiclass"], "font": "Roboto", "fontSize": 15.5, "fontWeight": "bold", "color": "black", "lineHeight": 21, "anchor": "middle", "frame": "bounds", "offset": 8.5, "dx": -1},
"facet": {"row": {"field": "family", "type": "nominal",
"sort": ["Hepe-Astroviridae", "Dicistroviridae", "Circoviridae", "Flaviviridae", "Nodaviridae", "Parvoviridae", "Genomoviridae"],
"header": {"title": null, "labelOrient": "right", "labelAngle": 0, "labelFont": "Liberation Sans", "labelFontSize": 8.8, "labelColor": "#1a1a1a", "labelPadding": 2}}},
"spacing": {"row": 1.6},
"resolve": {"scale": {"y": "independent"}},
"spec": {
"width": 165,
"height": {"step": 8.9},
"layer": [
{"mark": {"type": "rule", "color": "#9a9a9a", "strokeDash": [1.5, 3], "strokeWidth": 1.3},
"encoding": {"x": {"datum": 0.298, "type": "quantitative", "scale": {"domain": [-0.022, 1.028], "nice": false, "zero": false},
"axis": {"title": "Predicted Probability", "values": [0, 0.125, 0.25, 0.375, 0.5, 0.625, 0.75, 0.875, 1], "labelExpr": "(datum.value * 4) % 1 == 0 ? format(datum.value, '.2f') : ''", "tickOpacity": {"condition": {"test": "(datum.value * 4) % 1 == 0", "value": 1}, "value": 0}, "gridColor": {"condition": {"test": "(datum.value * 4) % 1 == 0", "value": "#e6e6e6"}, "value": "#f4f4f4"}, "tickSize": 2, "tickColor": "#333", "labelFont": "Liberation Sans", "labelFontSize": 8.8, "labelColor": "#4d4d4d", "labelPadding": 1, "titleFont": "Liberation Sans", "titleFontSize": 12, "titleFontWeight": "normal", "titleColor": "black", "titlePadding": 2, "domain": false}}}},
{"mark": {"type": "rule", "color": "black", "strokeWidth": 1},
"encoding": {"x": {"field": "lo", "type": "quantitative", "title": "Predicted Probability"}, "x2": {"field": "hi"},
"y": {"field": "name", "type": "nominal", "sort": null, "scale": {"type": "point", "padding": 0.6}, "title": null}}},
{"mark": {"type": "tick", "orient": "vertical", "size": 5, "thickness": 1, "color": "black", "opacity": 1},
"encoding": {"x": {"field": "lo", "type": "quantitative", "title": "Predicted Probability"},
"y": {"field": "name", "type": "nominal", "sort": null, "title": null}}},
{"mark": {"type": "tick", "orient": "vertical", "size": 5, "thickness": 1, "color": "black", "opacity": 1},
"encoding": {"x": {"field": "hi", "type": "quantitative", "title": "Predicted Probability"},
"y": {"field": "name", "type": "nominal", "sort": null, "title": null}}},
{"mark": {"type": "circle", "size": 62, "stroke": "black", "strokeWidth": 0.8, "opacity": 1},
"encoding": {
"x": {"field": "p", "type": "quantitative", "title": "Predicted Probability"},
"y": {"field": "name", "type": "nominal", "sort": null, "title": null,
"axis": {"title": null, "labelFont": "Liberation Sans", "labelFontSize": 8.8, "labelColor": "#1a1a1a", "labelPadding": 2, "tickSize": 2.5, "tickColor": "#333", "domain": false, "grid": true, "gridColor": "#ededed", "labelLimit": 300, "labelFontWeight": {"condition": {"test": "indexof(datum.value, 'U17') >= 0", "value": "bold"}, "value": "normal"}}},
"fill": {"field": "priority", "type": "nominal",
"scale": {"domain": ["Low", "Medium", "High", "Very high"], "range": ["#F8766D", "#5BA300", "#00BFC4", "#DA72F5"]},
"legend": {"title": "Priority Category", "orient": "none", "legendX": 257, "legendY": 110, "strokeColor": "#333", "padding": 6, "titleFont": "Liberation Sans", "titleFontSize": 10.5, "titleFontWeight": "normal", "titleColor": "black", "titlePadding": 9, "labelFont": "Liberation Sans", "labelFontSize": 8.8, "labelColor": "#1a1a1a", "symbolType": "circle", "symbolSize": 60, "symbolStrokeColor": "black", "symbolStrokeWidth": 0.8, "symbolOpacity": 1, "labelOffset": 12, "rowPadding": 3.3}}
}}
]
}
}
]
}
]
}
